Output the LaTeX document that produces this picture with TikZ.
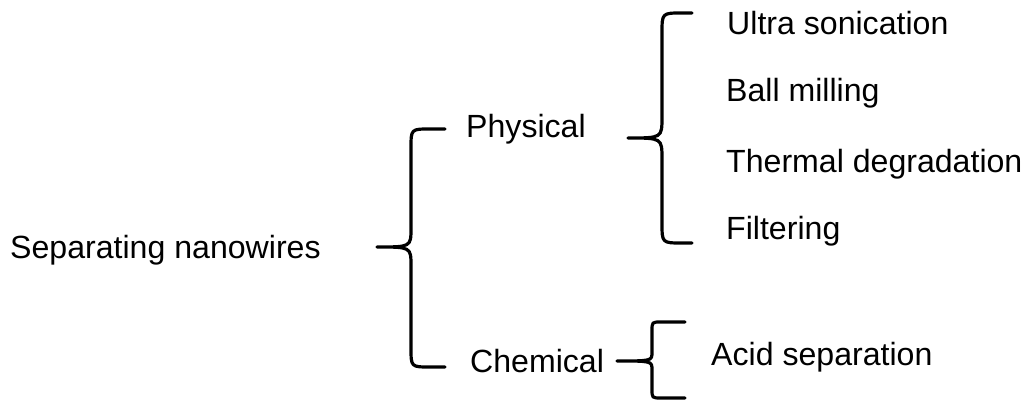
\documentclass[tikz,border=0pt]{standalone}
\usepackage{fontspec}
\setmainfont{Liberation Sans}
\tikzset{
  lbl/.style={anchor=base west, inner sep=0pt, font=\fontsize{32.1}{39}\selectfont},
  brace/.style={line width=3.2pt, line cap=round, line join=round}
}
% tip x, vertical x, end x, top y, tip y, bottom y, corner r, middle m
\newcommand\drawcurly[8]{%
  \draw[brace] (#3,#4) -- ({#2+#7},#4) .. controls (#2,#4) .. (#2,{#4-#7})
    -- (#2,{#5+#8}) .. controls (#2,#5) .. (#1,#5)
    .. controls (#2,#5) .. (#2,{#5-#8})
    -- (#2,{#6+#7}) .. controls (#2,#6) .. ({#2+#7},#6) -- (#3,#6);}
\begin{document}
\begin{tikzpicture}[x=1pt,y=1pt]
\useasboundingbox[fill=white] (0,0) rectangle (1026,404);
\node[lbl] (sep) at (10,145) {Separating nanowires};
\node[lbl] (phy) at (466,266) {Physical};
\node[lbl] (che) at (470,31) {Chemical};
\node[lbl] (ult) at (727,369) {Ultra sonication};
\node[lbl] (bal) at (726,302) {Ball milling};
\node[lbl] (the) at (726,231) {Thermal degradation};
\node[lbl] (fil) at (726,164) {Filtering};
\node[lbl] (aci) at (711,38) {Acid separation};
\drawcurly{377}{411}{445}{275}{157}{37}{19}{19}
\drawcurly{628}{662}{692}{391}{266}{161}{20}{21}
\drawcurly{617}{652}{685}{82}{43}{6}{9}{9}
\end{tikzpicture}
\end{document}
